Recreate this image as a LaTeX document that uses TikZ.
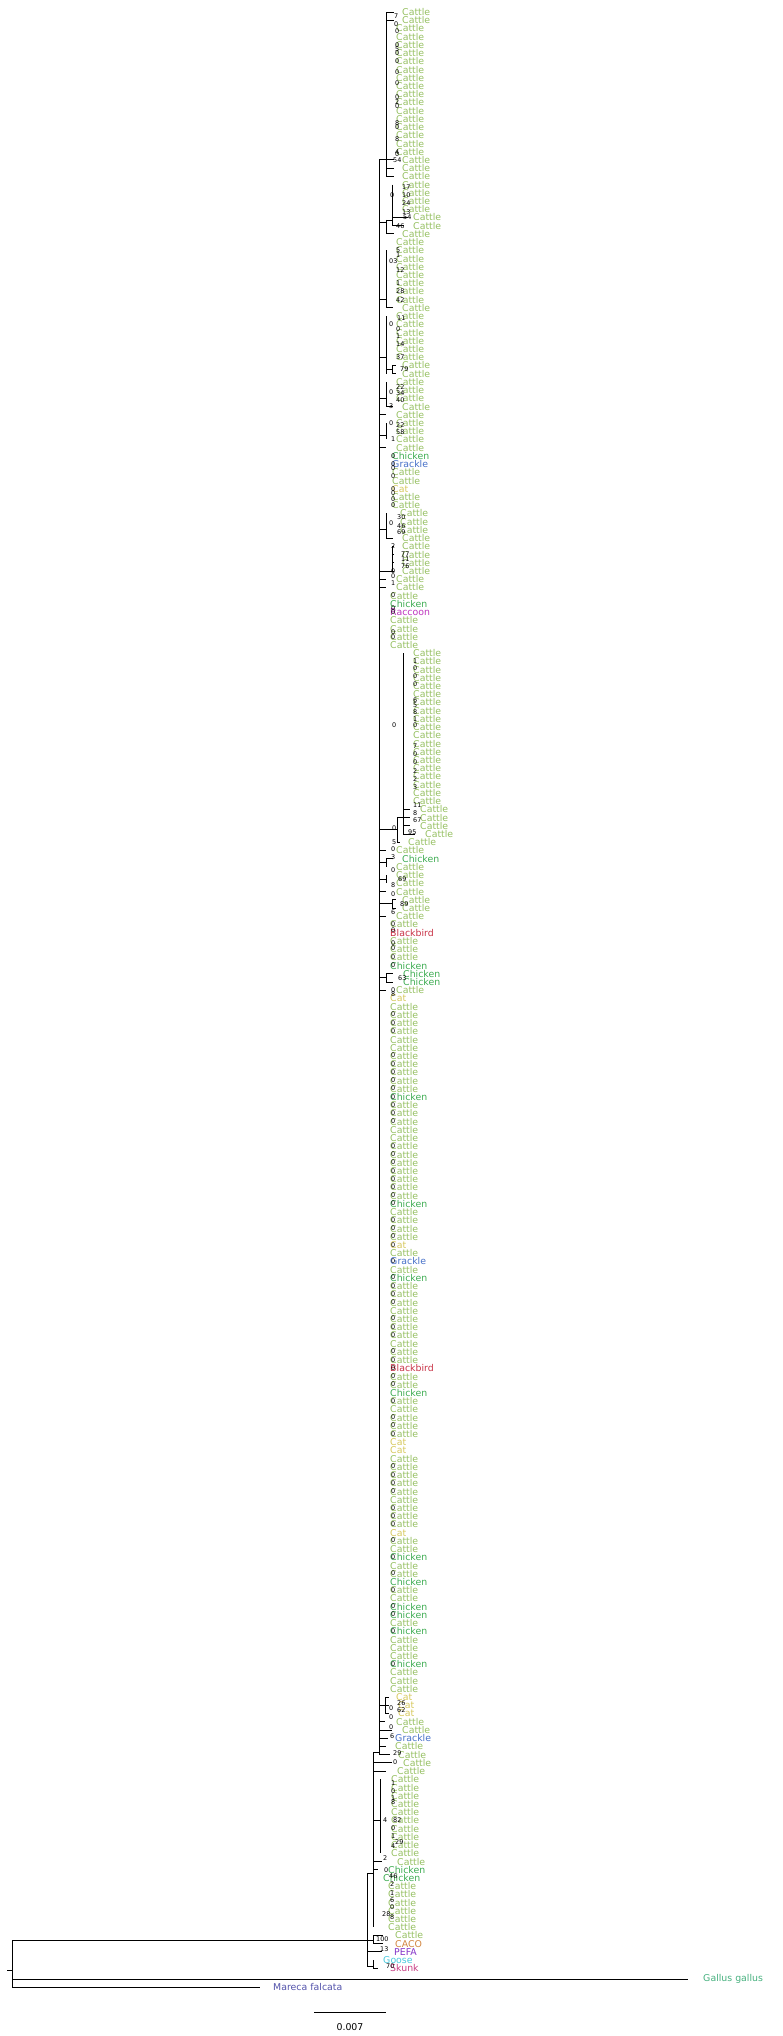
\documentclass[tikz,border=0pt]{standalone}
\usepackage{fontspec}
\setmainfont{DejaVu Sans}
\usepackage{xcolor}
\usepackage{tikz}
\usetikzlibrary{positioning}
\definecolor{cattle}{RGB}{150,192,98}
\definecolor{chicken}{RGB}{62,172,82}
\definecolor{grackle}{RGB}{70,112,200}
\definecolor{cat}{RGB}{214,200,92}
\definecolor{raccoon}{RGB}{190,52,190}
\definecolor{blackbird}{RGB}{200,50,70}
\definecolor{caco}{RGB}{210,132,62}
\definecolor{pefa}{RGB}{132,52,200}
\definecolor{goose}{RGB}{72,200,220}
\definecolor{skunk}{RGB}{200,62,132}
\definecolor{gallus}{RGB}{70,176,126}
\definecolor{mareca}{RGB}{82,82,170}
\tikzstyle{branch} = [line width=0.8pt, black]
\tikzstyle{leaf} = [anchor=west, inner sep=0pt, font=\fontsize{8}{8}\selectfont]
\tikzstyle{boot} = [anchor=west, inner sep=0pt, font=\fontsize{5.5}{5.5}\selectfont, text=black]
\newcommand{\ry}[1]{12+(#1-1)*8.22}
% clade bar: name, x, first row, last row
\newcommand{\clade}[4]{%
  \coordinate (#1) at (#2,{\ry{#3}});
  \coordinate (#1e) at (#2,{\ry{#4}});
  \draw[branch] (#1) -- (#1e);}

\begin{document}
\begin{tikzpicture}[x=0.03cm, y=-0.03cm]
\useasboundingbox (0,0) rectangle (783,2036);
\clade{spine}{379}{19}{213}
\clade{cA}{386}{1}{21}
\clade{cBi}{392}{22}{27}
\clade{cBo}{386}{26.3}{28}
\clade{cC}{386}{30}{37}
\clade{cD}{386}{38}{45}
\clade{cDs}{392}{44}{45}
\clade{cE}{386}{46}{49}
\clade{cF}{386}{51}{53}
\clade{cG}{386}{62}{65}
\clade{cH}{392}{66}{69}
\clade{cK}{403}{79}{101}
\clade{cKo}{397}{99}{102}
\clade{cL}{386}{104}{105}
\clade{cLb}{386}{106}{107}
\clade{cM}{392}{109}{110}
\clade{cMb}{386}{118}{119}
\clade{cN}{385}{206}{208}
\clade{cX}{373}{212.7}{234}
\clade{cP}{380}{216}{225}
\clade{cQ}{373}{235}{236}
\clade{cI}{367}{227.5}{238.8}
\clade{cGS}{373}{238}{239}
% stems: parent / child / row
\foreach \pa/\nm/\rw in {spine/cA/19, cBo/cBi/26.3, spine/cBo/26.6, spine/cC/36, spine/cD/43,
    cD/cDs/44.5, spine/cE/48, spine/cF/52.5, spine/cG/64, spine/cH/69, cKo/cK/99,
    spine/cKo/100.5, spine/cL/104.5, spine/cLb/106.5, spine/cM/109.5, spine/cMb/118.5,
    spine/cN/207, cX/spine/212.7, cX/cP/221, cI/cX/227.5, cI/cQ/235.6, cI/cGS/238.8}{
  \path (0,{\ry{\rw}}) coordinate (h);
  \draw[branch] (\pa |- h) -- (\nm |- h);
}
% leaves: first / last / label / colour / clade / tip x / label x
\foreach \fa/\fb/\nm/\col/\pa/\tx/\lx in {
    1/2/Cattle/cattle/cA/394/402, 3/18/Cattle/cattle/cA/386/396, 19/21/Cattle/cattle/cA/394/402,
    22/25/Cattle/cattle/cBi/392/402, 26/26/Cattle/cattle/cBi/408/413, 27/27/Cattle/cattle/cBi/404/413,
    28/28/Cattle/cattle/cBo/394/402, 29/29/Cattle/cattle/spine/379/396,
    30/36/Cattle/cattle/cC/386/396, 37/37/Cattle/cattle/cC/393/402,
    38/43/Cattle/cattle/cD/386/396, 44/45/Cattle/cattle/cDs/396/402,
    46/48/Cattle/cattle/cE/386/396, 49/49/Cattle/cattle/cE/393/402,
    50/50/Cattle/cattle/spine/386/396, 51/53/Cattle/cattle/cF/386/396, 54/54/Cattle/cattle/spine/386/396,
    55/55/Chicken/chicken/spine/379/392, 56/56/Grackle/grackle/spine/379/392,
    57/58/Cattle/cattle/spine/379/392, 59/59/Cat/cat/spine/379/392, 60/61/Cattle/cattle/spine/379/392,
    62/64/Cattle/cattle/cG/386/400, 65/65/Cattle/cattle/cG/393/402, 66/69/Cattle/cattle/cH/394/402,
    70/71/Cattle/cattle/spine/386/396, 72/72/Cattle/cattle/spine/379/390,
    73/73/Chicken/chicken/spine/379/390, 74/74/Raccoon/raccoon/spine/379/390,
    75/78/Cattle/cattle/spine/379/390,
    79/97/Cattle/cattle/cK/403/413, 98/100/Cattle/cattle/cK/410/420, 101/101/Cattle/cattle/cK/415/425,
    102/102/Cattle/cattle/cKo/400/408, 103/103/Cattle/cattle/spine/386/396,
    104/104/Chicken/chicken/cL/393/402, 105/105/Cattle/cattle/cL/386/396,
    106/107/Cattle/cattle/cLb/386/396, 108/108/Cattle/cattle/spine/386/396,
    109/110/Cattle/cattle/cM/396/402, 111/111/Cattle/cattle/spine/386/396,
    112/112/Cattle/cattle/spine/379/390, 113/113/Blackbird/blackbird/spine/379/390,
    114/116/Cattle/cattle/spine/379/390, 117/117/Chicken/chicken/spine/379/390,
    118/119/Chicken/chicken/cMb/393/403, 120/120/Cattle/cattle/spine/386/396,
    121/121/Cat/cat/spine/379/390, 122/132/Cattle/cattle/spine/379/390,
    133/133/Chicken/chicken/spine/379/390, 134/145/Cattle/cattle/spine/379/390,
    146/146/Chicken/chicken/spine/379/390, 147/150/Cattle/cattle/spine/379/390,
    151/151/Cat/cat/spine/379/390, 152/152/Cattle/cattle/spine/379/390,
    153/153/Grackle/grackle/spine/379/390, 154/154/Cattle/cattle/spine/379/390,
    155/155/Chicken/chicken/spine/379/390, 156/165/Cattle/cattle/spine/379/390,
    166/166/Blackbird/blackbird/spine/379/390, 167/168/Cattle/cattle/spine/379/390,
    169/169/Chicken/chicken/spine/379/390, 170/174/Cattle/cattle/spine/379/390,
    175/176/Cat/cat/spine/379/390, 177/185/Cattle/cattle/spine/379/390,
    186/186/Cat/cat/spine/379/390, 187/188/Cattle/cattle/spine/379/390,
    189/189/Chicken/chicken/spine/379/390, 190/191/Cattle/cattle/spine/379/390,
    192/192/Chicken/chicken/spine/379/390, 193/194/Cattle/cattle/spine/379/390,
    195/196/Chicken/chicken/spine/379/390, 197/197/Cattle/cattle/spine/379/390,
    198/198/Chicken/chicken/spine/379/390, 199/201/Cattle/cattle/spine/379/390,
    202/202/Chicken/chicken/spine/379/390, 203/205/Cattle/cattle/spine/379/390,
    206/206/Cat/cat/cN/389/396, 207/208/Cat/cat/cN/389/398,
    209/209/Cattle/cattle/spine/385/396, 210/210/Cattle/cattle/spine/392/402,
    211/211/Grackle/grackle/spine/388/395, 212/212/Cattle/cattle/spine/386/395,
    213/213/Cattle/cattle/spine/390/398, 214/214/Cattle/cattle/cX/392/403,
    215/215/Cattle/cattle/cX/386/397, 216/225/Cattle/cattle/cP/380/391,
    226/226/Cattle/cattle/cX/382/397, 227/227/Chicken/chicken/cX/378/388,
    228/228/Chicken/chicken/cX/373/383, 229/234/Cattle/cattle/cX/373/388,
    235/235/Cattle/cattle/cQ/383/395, 236/236/CACO/caco/cQ/383/395,
    237/237/PEFA/pefa/cI/382/394, 238/238/Goose/goose/cGS/373/383,
    239/239/Skunk/skunk/cGS/378/390}{
  \foreach \lf in {\fa,...,\fb}{
    \coordinate (t\lf) at (\tx,{\ry{\lf}});
    \draw[branch] (\pa |- t\lf) -- (t\lf);
    \node[leaf, text=\col] (l\lf) at (\lx,{\ry{\lf}}) {\nm};
  }
}
% outgroups and root
\coordinate (rt) at (12,{\ry{235.6}});
\coordinate (rb) at (12,1987);
\coordinate (rs) at (7,1970);
\draw[branch] (rt) -- (cI |- rt);
\draw[branch] (rt) -- (rb);
\draw[branch] (rs) -- (rt |- rs);
\coordinate (tg) at (688,1979);
\node[leaf, text=gallus] (lg) at (703,1979) {Gallus gallus};
\draw[branch] (rt |- tg) -- (tg);
\coordinate (tm) at (260,1987);
\node[leaf, text=mareca] (lm) at (273,1987) {Mareca falcata};
\draw[branch] (rb) -- (tm);
% bootstrap values
\foreach \bx/\rw/\bt [count=\q] in {394/1.5/7, 394/2.5/0, 395/3.3/0, 395/5/0, 395/5.5/5, 395/6/0,
    395/7/0, 395/8.3/0, 395/9.7/0, 395/11.3/0, 395/12/2, 395/12.5/0, 395/14.5/8, 395/15/0,
    395/16.5/8, 395/18/4, 395/18.3/0, 393/19/54,
    390/23.3/0, 402/22.3/17, 402/23.3/10, 402/24.3/24, 402/25.3/13, 403/26/54, 396/27/46,
    396/30/5, 396/30.6/1, 389/31.3/03, 396/32.4/12, 396/34/1, 396/35/28, 396/36/42,
    397/38.3/11, 389/39/0, 396/39.6/0, 396/40.4/1, 396/41.4/14, 396/43/37, 400/44.5/79,
    396/46.6/22, 389/47.2/0, 396/47.4/34, 396/48.2/40, 389/49/3,
    389/51/0, 396/51.3/22, 396/52.1/58, 391/53/1,
    391/55/0, 391/56/0, 391/56.5/0, 391/57.5/0, 391/59/0, 391/59.5/0, 391/60.3/0, 391/61/0,
    397/62.5/30, 389/63.2/0, 397/63.5/46, 397/64.3/69,
    391/66/2, 401/67/77, 401/67.6/11, 401/68.4/76, 391/69/0, 391/69.6/0, 391/70.5/1,
    391/72/0, 391/73.5/0, 391/74/0, 391/76.5/0, 391/77/0,
    413/80/1, 413/80.8/0, 413/81.8/0, 413/82.8/0, 413/84.7/6, 413/85.3/5, 413/86.2/8, 413/87/1,
    413/87.8/0, 392/87.7/0, 413/90.3/7, 413/91.3/0, 413/92.2/0, 413/93.3/2, 413/94.3/2,
    413/95.3/3, 413/97.5/11, 413/98.5/8, 413/99.3/67, 408/100.8/95, 392/100.3/0, 392/102/5,
    391/102.9/0, 391/103.8/3, 391/105.4/0, 398/106.5/69, 391/107.2/8, 391/108.3/0,
    400/109.5/89, 391/110.5/6,
    391/112/0, 391/112.7/0, 391/114.3/0, 391/114.9/0, 391/116/0, 391/117/0, 398/118.5/63,
    391/120/0, 391/120.5/8,
    397/206.7/26, 389/207.3/0, 397/207.6/62, 389/208.4/0, 389/209.6/0, 390/210.7/6,
    393/212.8/29, 393/213.9/0,
    391/216.5/1, 391/217.4/0, 391/218.3/1, 391/218.8/8, 383/221/4, 393/221/82, 391/222/0,
    391/222.9/1, 395/223.7/29, 391/224.1/4, 383/225.6/2,
    384/227/0, 389/227.8/46, 390/228.7/2, 390/229.8/1, 390/230.7/6, 390/231.5/0,
    382/232.4/28, 390/232.8/8, 376/235.4/100, 380/236.7/13, 386/238.7/70}{
  \node[boot] (bs\q) at (\bx,{\ry{\rw}}) {\bt};
}
\foreach \rw [count=\q] in {123,124,125,128,129,130,131,132,133,134,135,136,139,140,141,142,
    143,144,145,146,148,149,150,151,153,155,156,157,158,160,161,162,164,165,166,167,168,170,
    172,173,174,178,179,180,181,183,184,185,187,189,191,193,195,196,198,202}{
  \node[boot] (bz\q) at (391,{\ry{\rw}-0.35}) {0};
}
% scale bar
\coordinate (sa) at (314,2012);
\coordinate (sb) at (386,2012);
\draw[branch] (sa) -- (sb);
\node[font=\fontsize{8}{8}\selectfont, inner sep=0pt] (sl) at (350,2027) {0.007};
\end{tikzpicture}
\end{document}
